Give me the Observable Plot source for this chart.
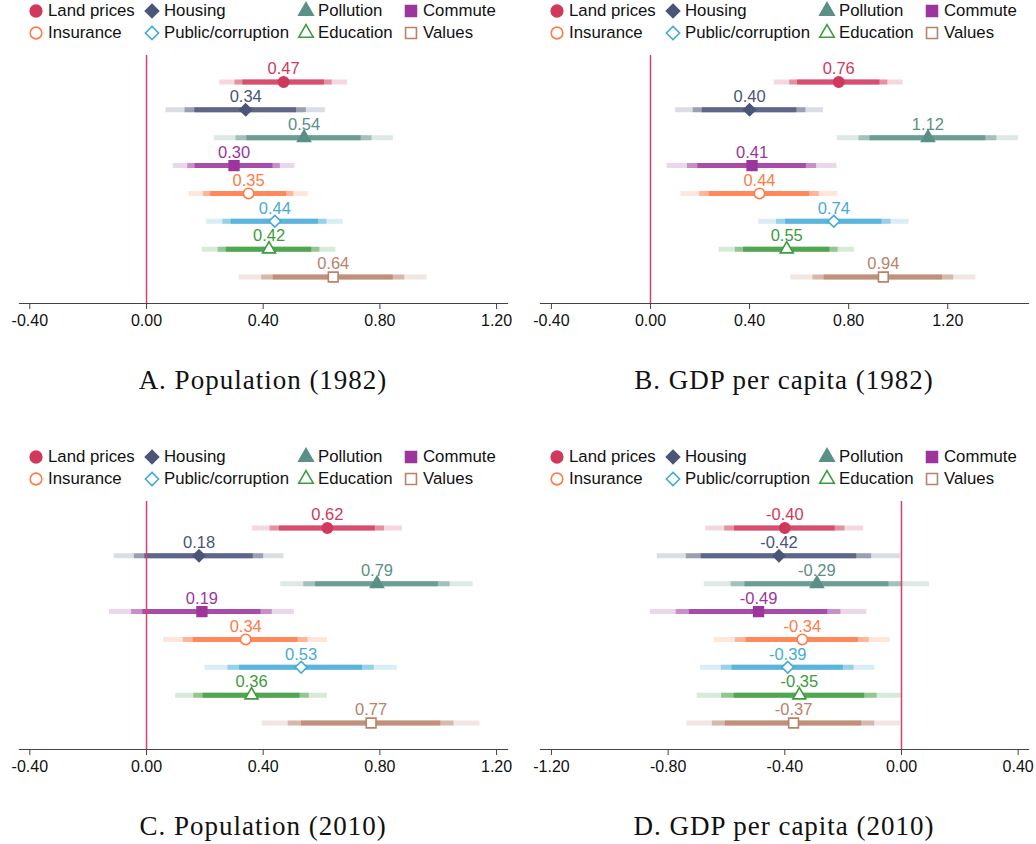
<!DOCTYPE html>
<html>
<head>
<meta charset="utf-8">
<script src="https://cdn.jsdelivr.net/npm/d3@7"></script>
<script src="https://cdn.jsdelivr.net/npm/@observablehq/plot@0.6"></script>
<style>
  body { margin: 0; background: #fff; }
  #page { position: relative; width: 1036px; height: 844px; overflow: hidden;
          font-family: "Liberation Sans", Arial, sans-serif; }
  .panel { position: absolute; height: 446px; }
  .legend-item { position: absolute; display: flex; align-items: center; height: 22px;
                 font-size: 16.8px; color: #111; white-space: nowrap; }
  .legend-item svg { margin-right: 6px; overflow: visible; }
  .chart { position: absolute; left: 0; top: 46px; }
  .title { position: absolute; left: 19px; width: 488px; top: 362px; text-align: center;
           font-family: "Liberation Serif", "Times New Roman", serif; font-size: 27px;
           letter-spacing: 1px; line-height: 36px; color: #111; white-space: nowrap; }
</style>
</head>
<body>
<div id="page"></div>
<script>
// Amenity categories, in plotting order (top to bottom)
const categories = ["Land prices", "Housing", "Pollution", "Commute",
                    "Insurance", "Public/corruption", "Education", "Values"];
const seriesColors = ["#d1395c", "#4b5479", "#5a9086", "#9c369c",
                      "#ff7b47", "#45abd6", "#3c9c3c", "#b9836b"];
const seriesSymbols = ["circle", "diamond2", "triangle", "square",
                       "circle", "diamond2", "triangle", "square"];
const seriesHollow = [false, false, false, false, true, true, true, true];

// Point estimates and standard errors, one pair of arrays per outcome
const estPop1982 = [0.47, 0.34, 0.54, 0.30, 0.35, 0.44, 0.42, 0.64];
const sePop1982  = [0.085, 0.106, 0.119, 0.081, 0.079, 0.091, 0.089, 0.125];
const estGdp1982 = [0.76, 0.40, 1.12, 0.41, 0.44, 0.74, 0.55, 0.94];
const seGdp1982  = [0.101, 0.116, 0.142, 0.133, 0.123, 0.118, 0.106, 0.145];
const estPop2010 = [0.62, 0.18, 0.79, 0.19, 0.34, 0.53, 0.36, 0.77];
const sePop2010  = [0.100, 0.113, 0.128, 0.123, 0.109, 0.128, 0.101, 0.145];
const estGdp2010 = [-0.40, -0.42, -0.29, -0.49, -0.34, -0.39, -0.35, -0.37];
const seGdp2010  = [0.105, 0.162, 0.150, 0.144, 0.117, 0.116, 0.136, 0.142];

// Axis tick values
const ticksPositive = [-0.4, 0, 0.4, 0.8, 1.2];
const ticksNegative = [-1.2, -0.8, -0.4, 0, 0.4];

// Confidence levels drawn as nested bars: 99%, 95%, 90%
const critValues = [2.576, 1.960, 1.645];
const levelOpacity = [0.2, 0.45, 0.75];

const symbolRadius = {circle: 5.2, diamond2: 5.3, triangle: 4.8, square: 5.5};

const panels = [
  {title: "A. Population (1982)",     est: estPop1982, se: sePop1982, domain: [-0.4354, 1.2375], ticks: ticksPositive, left: 0,   top: 0,   width: 518},
  {title: "B. GDP per capita (1982)", est: estGdp1982, se: seGdp1982, domain: [-0.444, 1.526],   ticks: ticksPositive, left: 521, top: 0,   width: 515},
  {title: "C. Population (2010)",     est: estPop2010, se: sePop2010, domain: [-0.4354, 1.2375], ticks: ticksPositive, left: 0,   top: 446, width: 518},
  {title: "D. GDP per capita (2010)", est: estGdp2010, se: seGdp2010, domain: [-1.2375, 0.4354], ticks: ticksNegative, left: 521, top: 446, width: 515}
];

const fmt = d => d.toFixed(2);
const page = document.getElementById("page");

function symbolPath(name, size) {
  const type = {circle: d3.symbolCircle, diamond2: d3.symbolDiamond2,
                triangle: d3.symbolTriangle, square: d3.symbolSquare}[name];
  return d3.symbol().type(type).size(size)();
}

function buildLegend(container) {
  const colX = [36, 152, 306, 411];
  categories.forEach((cat, i) => {
    const col = i % 4, row = Math.floor(i / 4);
    const item = document.createElement("div");
    item.className = "legend-item";
    item.style.left = (colX[col] - 6) + "px";
    item.style.top = (row * 22) + "px";
    const r = symbolRadius[seriesSymbols[i]] * 1.12;
    const path = symbolPath(seriesSymbols[i], Math.PI * r * r);
    const fill = seriesHollow[i] ? "#fff" : seriesColors[i];
    item.innerHTML =
      `<svg width="12" height="12" viewBox="-6 -6 12 12"><path d="${path}" fill="${fill}" stroke="${seriesColors[i]}" stroke-width="1.6"/></svg><span>${cat}</span>`;
    container.appendChild(item);
  });
}

function drawPanel(p) {
  const div = document.createElement("div");
  div.className = "panel";
  div.style.left = p.left + "px";
  div.style.top = p.top + "px";
  div.style.width = p.width + "px";
  page.appendChild(div);
  buildLegend(div);

  const rows = categories.map((cat, i) => ({
    cat, est: p.est[i], se: p.se[i], color: seriesColors[i],
    symbol: seriesSymbols[i], hollow: seriesHollow[i]
  }));

  const marks = [];
  critValues.forEach((z, k) => {
    marks.push(Plot.ruleY(rows, {
      y: "cat", x1: d => d.est - z * d.se, x2: d => d.est + z * d.se,
      stroke: "color", strokeWidth: 5, strokeOpacity: levelOpacity[k]
    }));
  });
  marks.push(Plot.ruleX([0], {stroke: "#d8406c", strokeWidth: 1.5}));
  marks.push(Plot.frame({anchor: "bottom", stroke: "#444", strokeWidth: 1.2}));
  marks.push(Plot.axisX({
    ticks: p.ticks, tickFormat: fmt, tickSize: 6, tickPadding: 5,
    fontSize: 16, label: null, stroke: "#444"
  }));
  ["circle", "diamond2", "triangle", "square"].forEach(s => {
    marks.push(Plot.dot(rows.filter(d => d.symbol === s), {
      x: "est", y: "cat", symbol: s, r: symbolRadius[s],
      fill: d => d.hollow ? "#fff" : d.color, stroke: "color", strokeWidth: 1.6
    }));
  });
  marks.push(Plot.text(rows, {
    x: "est", y: "cat", text: d => fmt(d.est), fill: "color",
    dy: -13, fontSize: 16.5
  }));

  const chart = Plot.plot({
    width: p.width,
    height: 289,
    marginLeft: 19,
    marginRight: p.width - 507,
    marginTop: 9,
    marginBottom: 32,
    x: {domain: p.domain, label: null},
    y: {type: "point", domain: categories, padding: 0.95, round: false, axis: null},
    color: {type: "identity"},
    style: {fontFamily: '"Liberation Sans", Arial, sans-serif', fontSize: "16px",
            color: "#111", background: "transparent", overflow: "visible"},
    marks
  });
  chart.classList.add("chart");
  div.appendChild(chart);

  const title = document.createElement("div");
  title.className = "title";
  title.textContent = p.title;
  div.appendChild(title);
}

panels.forEach(drawPanel);
</script>
</body>
</html>
